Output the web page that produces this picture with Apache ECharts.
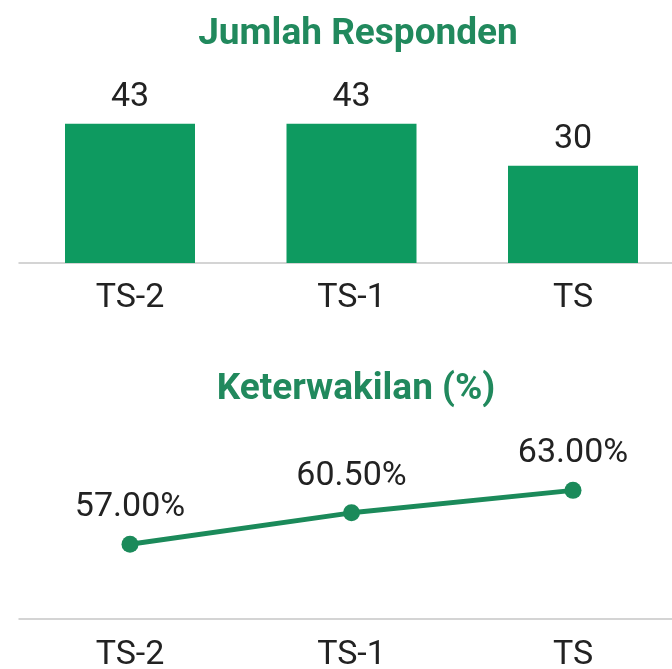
<!DOCTYPE html>
<html>
<head>
<meta charset="utf-8">
<script src="https://cdn.jsdelivr.net/npm/echarts@6/dist/echarts.min.js"></script>
<style>html,body{margin:0;padding:0;background:#fff;}#c{width:672px;height:669px;}</style>
</head>
<body>
<div id="c"></div>
<script>
var categories = ['TS-2', 'TS-1', 'TS'];
var respondents = [43, 43, 30];
var representation = [57.00, 60.50, 63.00];
var titleTop = 'Jumlah Responden';
var titleBottom = 'Keterwakilan (%)';

var chart = echarts.init(document.getElementById('c'));
var green = '#0e9a60';
var lineGreen = '#1b8a5a';
var titleGreen = '#21895d';
var textCol = '#222222';
var font = 'Roboto';

chart.setOption({
  animation: false,
  backgroundColor: '#ffffff',
  title: [
    { text: titleTop, left: 353, top: 11, textAlign: 'center',
      textStyle: { color: titleGreen, fontSize: 37, fontWeight: 'bold', fontFamily: font } },
    { text: titleBottom, left: 351, top: 366, textAlign: 'center',
      textStyle: { color: titleGreen, fontSize: 37, fontWeight: 'bold', fontFamily: font } }
  ],
  grid: [
    { left: 19.25, right: -11.75, top: 101, bottom: 406, outerBoundsMode: 'none', containLabel: false },
    { left: 19.25, right: -11.75, top: 440, bottom: 50, outerBoundsMode: 'none', containLabel: false }
  ],
  xAxis: [
    { type: 'category', gridIndex: 0, data: categories, boundaryGap: true,
      axisLine: { lineStyle: { color: '#d4d4d4', width: 2 } },
      axisTick: { show: false },
      axisLabel: { color: textCol, fontSize: 34, fontFamily: font, margin: 18 } },
    { type: 'category', gridIndex: 1, data: categories, boundaryGap: true,
      axisLine: { lineStyle: { color: '#d4d4d4', width: 2 } },
      axisTick: { show: false },
      axisLabel: { color: textCol, fontSize: 34, fontFamily: font, margin: 19 } }
  ],
  yAxis: [
    { type: 'value', gridIndex: 0, min: 0, max: 50, show: false, splitLine: { show: false } },
    { type: 'value', gridIndex: 1, min: 48.7, max: 68.6, show: false, splitLine: { show: false } }
  ],
  series: [
    { type: 'bar', xAxisIndex: 0, yAxisIndex: 0, data: respondents, barWidth: 130,
      itemStyle: { color: green },
      label: { show: true, position: 'top', distance: 9, color: textCol, fontSize: 34, fontFamily: font } },
    { type: 'line', xAxisIndex: 1, yAxisIndex: 1, data: representation,
      symbol: 'circle', symbolSize: 17,
      lineStyle: { color: lineGreen, width: 5 },
      itemStyle: { color: lineGreen },
      label: { show: true, position: 'top', distance: 11, color: textCol, fontSize: 34, fontFamily: font,
        formatter: function (p) { return p.value.toFixed(2) + '%'; } } }
  ]
});
</script>
</body>
</html>
